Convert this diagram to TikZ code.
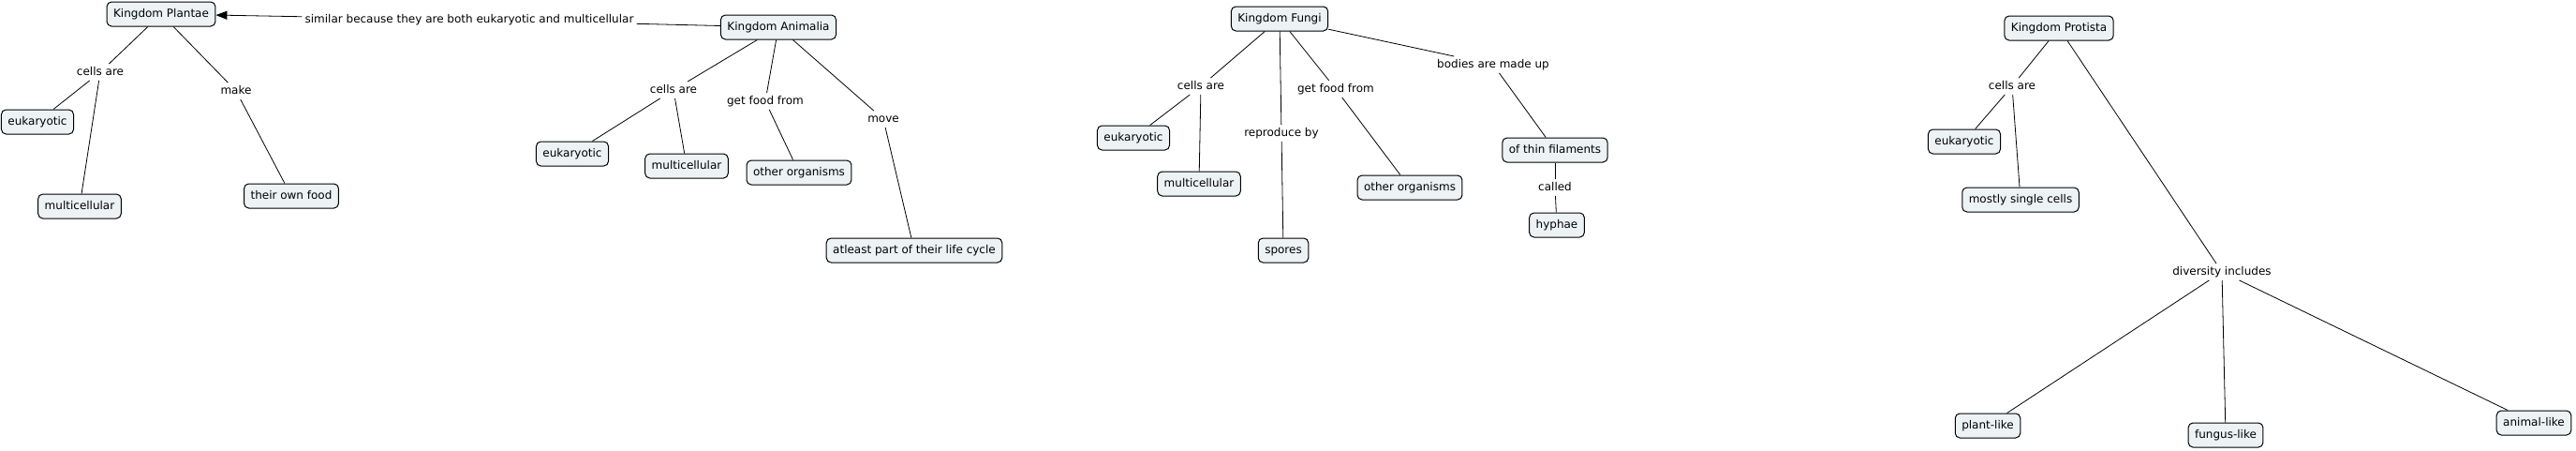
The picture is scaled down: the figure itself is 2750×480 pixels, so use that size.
\documentclass[tikz,border=0pt]{standalone}
\usepackage{fontspec}
\setmainfont{DejaVu Sans}
\usetikzlibrary{arrows.meta}
\definecolor{conceptfill}{RGB}{237,242,244}

\tikzset{
	concept/.style = {draw = black, line width = 1pt, fill = conceptfill, rounded corners = 5pt,
		inner xsep = 7pt, minimum height = 26pt, text height = 9pt, text depth = 2.5pt},
	linkword/.style = {inner sep = 3pt, text height = 9pt, text depth = 2.5pt},
	link/.style = {line width = 0.8pt, black}
}

\begin{document}
\begin{tikzpicture}[x = 1pt, y = -1pt, font = \fontsize{12}{14}\selectfont]
			\useasboundingbox (0,0) rectangle (2750,480);
			
			\node[concept] (plantae) at (172,15) {Kingdom Plantae};
			\node[linkword] (pcells) at (107,77) {cells are};
			\node[concept] (peuk) at (40,130) {eukaryotic};
			\node[concept] (pmulti) at (85,220) {multicellular};
			\node[linkword] (pmake) at (252,97) {make};
			\node[concept] (pfood) at (311,209) {their own food};
			\node[linkword] (similar) at (501,21) {similar because they are both eukaryotic and multicellular};
			
			\node[concept] (animalia) at (831,29) {Kingdom Animalia};
			\node[linkword] (acells) at (719,96) {cells are};
			\node[concept] (aeuk) at (611,164) {eukaryotic};
			\node[concept] (amulti) at (733,177) {multicellular};
			\node[linkword] (afood) at (817,108) {get food from};
			\node[concept] (aother) at (853,184) {other organisms};
			\node[linkword] (amove) at (943,127) {move};
			\node[concept] (alife) at (976,267) {atleast part of their life cycle};
			
			\node[concept] (fungi) at (1366,20) {Kingdom Fungi};
			\node[linkword] (fcells) at (1282,92) {cells are};
			\node[concept] (feuk) at (1210,147) {eukaryotic};
			\node[concept] (fmulti) at (1280,196) {multicellular};
			\node[linkword] (frepro) at (1368,142) {reproduce by};
			\node[concept] (fspores) at (1370,267) {spores};
			\node[linkword] (ffood) at (1426,95) {get food from};
			\node[concept] (fother) at (1505,200) {other organisms};
			\node[linkword] (fbodies) at (1594,69) {bodies are made up};
			\node[concept] (ffila) at (1660,160) {of thin filaments};
			\node[linkword] (fcalled) at (1660,200) {called};
			\node[concept] (fhyphae) at (1662,240) {hyphae};
			
			\node[concept] (protista) at (2198,30) {Kingdom Protista};
			\node[linkword] (tcells) at (2148,92) {cells are};
			\node[concept] (teuk) at (2097,151) {eukaryotic};
			\node[concept] (tsingle) at (2157,213) {mostly single cells};
			\node[linkword] (tdiv) at (2372,290) {diversity includes};
			\node[concept] (tplant) at (2122,454) {plant-like};
			\node[concept] (tfungus) at (2376,464) {fungus-like};
			\node[concept] (tanimal) at (2705,451) {animal-like};
			
			\draw[link, -{Triangle[length=12pt, width=9pt]}] (similar) -- (plantae);
			\draw[link] (similar) -- (animalia);
			
			\draw[link] (plantae) -- (pcells);
			\draw[link] (pcells) -- (peuk);
			\draw[link] (pcells) -- (pmulti);
			\draw[link] (plantae) -- (pmake);
			\draw[link] (pmake) -- (pfood);
			
			\draw[link] (animalia) -- (acells);
			\draw[link] (acells) -- (aeuk);
			\draw[link] (acells) -- (amulti);
			\draw[link] (animalia) -- (afood);
			\draw[link] (afood) -- (aother);
			\draw[link] (animalia) -- (amove);
			\draw[link] (amove) -- (alife);
			
			\draw[link] (fungi) -- (fcells);
			\draw[link] (fcells) -- (feuk);
			\draw[link] (fcells) -- (fmulti);
			\draw[link] (fungi) -- (frepro);
			\draw[link] (frepro) -- (fspores);
			\draw[link] (fungi) -- (ffood);
			\draw[link] (ffood) -- (fother);
			\draw[link] (fungi) -- (fbodies);
			\draw[link] (fbodies) -- (ffila);
			\draw[link] (ffila) -- (fcalled);
			\draw[link] (fcalled) -- (fhyphae);
			
			\draw[link] (protista) -- (tcells);
			\draw[link] (tcells) -- (teuk);
			\draw[link] (tcells) -- (tsingle);
			\draw[link] (protista) -- (tdiv);
			\draw[link] (tdiv) -- (tplant);
			\draw[link] (tdiv) -- (tfungus);
			\draw[link] (tdiv) -- (tanimal);
		
		\end{tikzpicture}
\end{document}
